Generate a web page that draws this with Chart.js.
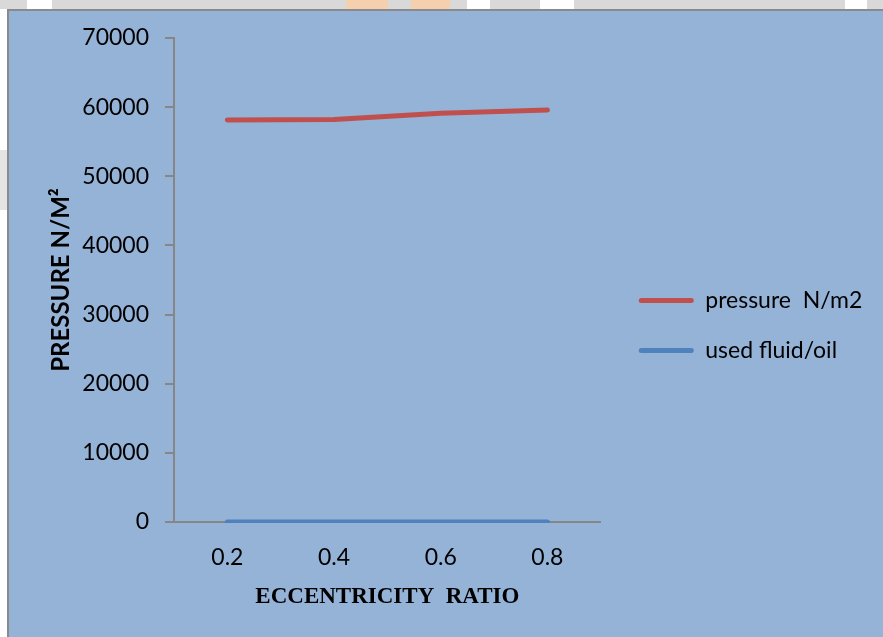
<!DOCTYPE html>
<html>
<head>
<meta charset="utf-8">
<script src="https://cdn.jsdelivr.net/npm/chart.js@4.4.1/dist/chart.umd.min.js"></script>
<style>
  html, body { margin: 0; padding: 0; width: 883px; height: 637px; overflow: hidden; background: #ffffff; }
  .band { position: absolute; left: 0; top: 0; width: 883px; height: 9px; background: #d9d9d9; }
  .patch { position: absolute; top: 0; height: 9px; }
  .white { background: #ffffff; }
  .peach { background: #f6cfae; }
  .side { position: absolute; left: 0; top: 150px; width: 7px; height: 60px; background: #e4e4e4; }
  #frame {
    position: absolute; left: 7px; top: 9px; width: 876px; height: 628px;
    box-sizing: border-box; border-left: 2px solid #8a8a8a; border-top: 2px solid #8a8a8a;
    background: #95b3d7;
  }
  canvas { display: block; }
</style>
</head>
<body>
<div class="band"></div>
<div class="patch white" style="left:27px;width:25px"></div>
<div class="patch peach" style="left:346px;width:42px"></div>
<div class="patch peach" style="left:411px;width:39px"></div>
<div class="patch white" style="left:467px;width:23px"></div>
<div class="patch white" style="left:540px;width:34px"></div>
<div class="patch white" style="left:845px;width:22px"></div>
<div class="side"></div>
<div id="frame"><canvas id="chart" width="874" height="626"></canvas></div>
<script>
// Eccentricity ratios on the x axis
const ratios = ['0.2', '0.4', '0.6', '0.8'];
// Pressure in N/m2 for each ratio
const pressure = [58150, 58200, 59100, 59600];
// Used fluid/oil series
const fluidOil = [0, 0, 0, 0];
// Value axis ticks
const yTicks = [0, 10000, 20000, 30000, 40000, 50000, 60000, 70000];

const AXIS = '#868686';
const RED = '#c0504d';
const BLUE = '#4f81bd';

// Move the legend block within its slot and let it run to the right edge
const legendShift = {
  id: 'legendShift',
  afterLayout(chart, args, opts) {
    const lg = chart.legend;
    if (!lg) return;
    lg.left += opts.dx;
    lg.right = chart.width;
    lg.width = lg.right - lg.left;
    lg.top += opts.dy; lg.bottom += opts.dy;
  }
};

new Chart(document.getElementById('chart'), {
  type: 'line',
  data: {
    labels: ratios,
    datasets: [
      {
        label: 'pressure  N/m2',
        data: pressure,
        borderColor: RED,
        backgroundColor: RED,
        borderWidth: 5,
        borderCapStyle: 'round',
        borderJoinStyle: 'round',
        pointRadius: 0,
        tension: 0
      },
      {
        label: 'used fluid/oil',
        data: fluidOil,
        borderColor: BLUE,
        backgroundColor: BLUE,
        borderWidth: 5,
        borderCapStyle: 'round',
        borderJoinStyle: 'round',
        pointRadius: 0,
        tension: 0,
        clip: { left: 5, top: 5, right: 5, bottom: 1 }
      }
    ]
  },
  options: {
    responsive: false,
    devicePixelRatio: 1,
    animation: false,
    layout: { padding: { left: 0, top: 27, right: 85, bottom: 0 } },
    scales: {
      x: {
        type: 'category',
        offset: true,
        grid: { display: false, drawTicks: false },
        border: { display: true, color: AXIS, width: 2 },
        ticks: { color: '#000', padding: 22, font: { family: 'Lato', size: 23 } },
        title: {
          display: true,
          text: 'ECCENTRICITY  RATIO',
          color: '#000',
          font: { family: 'Liberation Serif', size: 23, weight: 'bold' },
          padding: { top: 0, bottom: 26 }
        },
        afterFit(s) { s.height = 115; }
      },
      y: {
        min: 0,
        max: 70000,
        grid: { display: true, drawOnChartArea: false, drawTicks: true, tickLength: 9, color: AXIS, lineWidth: 2 },
        border: { display: true, color: AXIS, width: 2 },
        ticks: {
          color: '#000',
          padding: 16,
          font: { family: 'Lato', size: 23, lineHeight: 0.9 },
          callback: v => String(v)
        },
        afterBuildTicks(s) { s.ticks = yTicks.map(v => ({ value: v })); },
        title: {
          display: true,
          text: 'PRESSURE N/M²',
          color: '#000',
          font: { family: 'Lato', size: 24, weight: 'bold' },
          padding: { top: 38, bottom: 0 }
        },
        afterFit(s) { s.width = 165; }
      }
    },
    plugins: {
      tooltip: { enabled: false },
      legendShift: { dx: 11, dy: -12 },
      legend: {
        position: 'right',
        align: 'center',
        labels: {
          color: '#000',
          font: { family: 'Lato', size: 23 },
          boxWidth: 55,
          boxHeight: 5,
          padding: 27,
          generateLabels(chart) {
            return chart.data.datasets.map((ds, i) => ({
              text: ds.label,
              fillStyle: ds.borderColor,
              strokeStyle: ds.borderColor,
              lineWidth: 0,
              borderRadius: 2.5,
              hidden: false,
              datasetIndex: i,
              fontColor: '#000'
            }));
          }
        }
      }
    }
  },
  plugins: [legendShift]
});
</script>
</body>
</html>
